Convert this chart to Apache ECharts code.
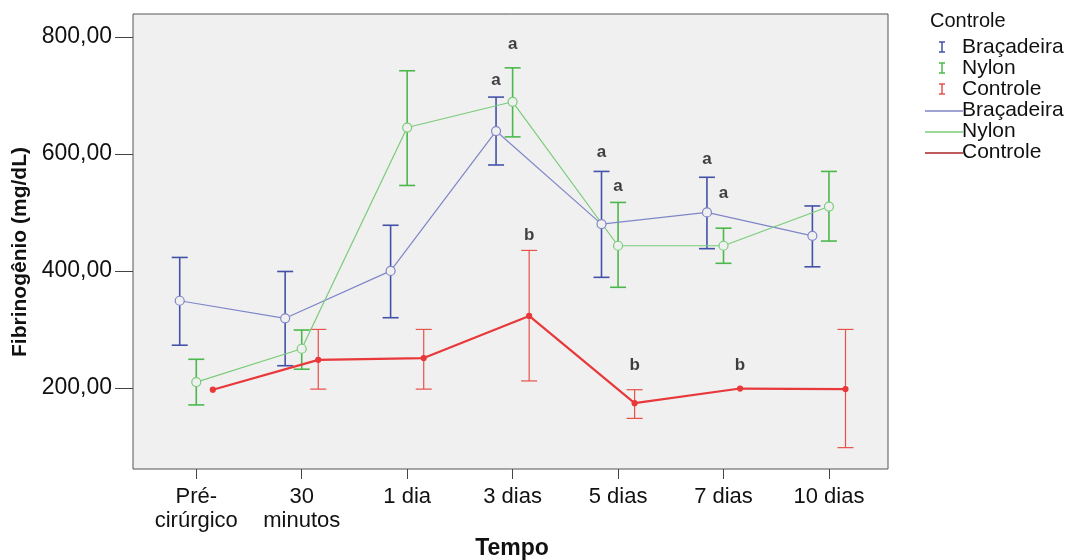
<!DOCTYPE html>
<html><head><meta charset="utf-8">
<script src="https://cdn.jsdelivr.net/npm/echarts@6/dist/echarts.min.js"></script>
<style>html,body{margin:0;padding:0;background:#fff}#c{width:1068px;height:560px}</style>
</head><body><div id="c"></div>
<script>
const categories = ['Pré-\ncirúrgico','30\nminutos','1 dia','3 dias','5 dias','7 dias','10 dias'];
const yTicks = [200,400,600,800];
const seriesNames = ['Braçadeira','Nylon','Controle'];
const bracMean = [349,319,400,639,480,500,460];
const bracLow  = [273,238,320,581,389,438,407];
const bracHigh = [423,399,478,697,570,560,511];
const nylonMean = [210,267,645,689,443,443,510];
const nylonLow  = [171,232,546,629,372,413,451];
const nylonHigh = [249,299,742,747,517,473,570];
const ctrlMean = [197,248,251,323,174,199,198];
const ctrlLow  = [null,198,198,212,148,null,98];
const ctrlHigh = [null,300,300,435,197,null,300];
const bracLetters  = [null,null,null,'a','a','a',null];
const bracLetterY  = [null,null,null,725,603,591,null];
const nylonLetters = [null,null,null,'a','a','a',null];
const nylonLetterY = [null,null,null,788,545,532,null];
const ctrlLetters  = [null,null,null,'b','b','b',null];
const ctrlLetterY  = [null,null,null,460,239,239,null];

const FONT = '"Liberation Sans", Arial, sans-serif';
const OFF = 0.157;
const C = {
  bracLine:'#7f86c8', bracErr:'#4352a8',
  nylLine:'#79cc79', nylErr:'#4cb84c',
  ctrlLine:'#e8383a', ctrlErr:'#e8504a'
};

function errSeries(name, off, low, high, color, w) {
  const data = [];
  low.forEach((l,i)=>{ if (l!=null) data.push([i+off, l, high[i]]); });
  return {
    type:'custom', name, data, z:3,
    encode:{x:0, y:[1,2]},
    renderItem:(params, api)=>{
      const x = api.value(0);
      const pLo = api.coord([x, api.value(1)]);
      const pHi = api.coord([x, api.value(2)]);
      const cw = 8;
      const st = {stroke:color, lineWidth:w};
      return {type:'group', children:[
        {type:'line', shape:{x1:pLo[0],y1:pLo[1],x2:pHi[0],y2:pHi[1]}, style:st},
        {type:'line', shape:{x1:pLo[0]-cw,y1:pLo[1],x2:pLo[0]+cw,y2:pLo[1]}, style:st},
        {type:'line', shape:{x1:pHi[0]-cw,y1:pHi[1],x2:pHi[0]+cw,y2:pHi[1]}, style:st}
      ]};
    }
  };
}
function lineSeries(name, off, mean, color, w, sym, symSize, fill) {
  return {
    type:'line', name, z:4,
    data: mean.map((v,i)=>[i+off, v]),
    symbol: sym, symbolSize: symSize,
    lineStyle:{color, width:w},
    itemStyle:{color: fill, borderColor: color, borderWidth:1.2},
    emphasis:{disabled:true}
  };
}
function letterSeries(off, letters, ys) {
  const data = [];
  letters.forEach((t,i)=>{ if (t) data.push([i+off, ys[i], t]); });
  return {
    type:'scatter', data, symbolSize:0, z:5,
    label:{show:true, position:'inside', formatter:p=>p.data[2],
      fontFamily:FONT, fontWeight:'bold', fontSize:17, color:'#111'}
  };
}

const chart = echarts.init(document.getElementById('c'));
const legendY = [47,68,89,110,131,152];
const legendG = [];
legendG.push({type:'text', x:930, y:21, style:{text:'Controle', font:'20px '+FONT, fill:'#111', textVerticalAlign:'middle'}});
const errCols = [C.bracErr, C.nylErr, C.ctrlErr];
const lineCols = [C.bracLine, C.nylLine, '#a8252a'];
for (let k=0;k<3;k++){
  const y = legendY[k];
  const x = 942;
  legendG.push({type:'group', children:[
    {type:'line', shape:{x1:x,y1:y-5,x2:x,y2:y+5}, style:{stroke:errCols[k], lineWidth:1.5}},
    {type:'line', shape:{x1:x-3,y1:y-5,x2:x+3,y2:y-5}, style:{stroke:errCols[k], lineWidth:1.5}},
    {type:'line', shape:{x1:x-3,y1:y+5,x2:x+3,y2:y+5}, style:{stroke:errCols[k], lineWidth:1.5}}
  ]});
  legendG.push({type:'text', x:962, y:y, style:{text:seriesNames[k], font:'21px '+FONT, fill:'#111', textVerticalAlign:'middle'}});
}
for (let k=0;k<3;k++){
  const y = legendY[k+3];
  legendG.push({type:'line', shape:{x1:925,y1:y+1,x2:963,y2:y+1}, style:{stroke:lineCols[k], lineWidth:1.5}});
  legendG.push({type:'text', x:962, y:y, style:{text:seriesNames[k], font:'21px '+FONT, fill:'#111', textVerticalAlign:'middle'}});
}

chart.setOption({
  animation:false,
  backgroundColor:'#fff',
  grid:{left:133, right:180, top:14, bottom:91, show:true, backgroundColor:'#f0f0f0', borderColor:'#555', borderWidth:1},
  xAxis:{
    type:'value', min:-0.6, max:6.56,
    axisLine:{show:false, onZero:false},
    splitLine:{show:false},
    axisTick:{show:true, customValues:[0,1,2,3,4,5,6], length:10, lineStyle:{color:'#444'}},
    axisLabel:{customValues:[0,1,2,3,4,5,6], formatter:v=>categories[Math.round(v)],
      fontFamily:FONT, fontSize:22, color:'#111', lineHeight:24, margin:16}
  },
  yAxis:{
    type:'value', min:61.5, max:839,
    axisLine:{show:false, onZero:false},
    splitLine:{show:false},
    axisTick:{show:true, customValues:yTicks, length:18, lineStyle:{color:'#444'}},
    axisLabel:{customValues:yTicks, formatter:v=>v.toFixed(2).replace('.', ','),
      fontFamily:FONT, fontSize:23, color:'#111', margin:21}
  },
  graphic:[
    {type:'text', x:20, y:252, rotation:Math.PI/2, style:{text:'Fibrinogênio (mg/dL)', font:'bold 21px '+FONT, fill:'#111', textAlign:'center', textVerticalAlign:'middle'}},
    {type:'text', x:512, y:549, style:{text:'Tempo', font:'bold 23px '+FONT, fill:'#111', textAlign:'center', textVerticalAlign:'middle'}},
    ...legendG
  ],
  series:[
    lineSeries('Braçadeira', -OFF, bracMean, C.bracLine, 1.2, 'circle', 9, '#f0f0f0'),
    lineSeries('Nylon', 0, nylonMean, C.nylLine, 1.2, 'circle', 9, '#f0f0f0'),
    lineSeries('Controle', OFF, ctrlMean, C.ctrlLine, 2.2, 'circle', 5, C.ctrlLine),
    errSeries('eB', -OFF, bracLow, bracHigh, C.bracErr, 1.6),
    errSeries('eN', 0, nylonLow, nylonHigh, C.nylErr, 1.6),
    errSeries('eC', OFF, ctrlLow, ctrlHigh, C.ctrlErr, 1.2),
    letterSeries(-OFF, bracLetters, bracLetterY),
    letterSeries(0, nylonLetters, nylonLetterY),
    letterSeries(OFF, ctrlLetters, ctrlLetterY)
  ]
});
</script></body></html>
